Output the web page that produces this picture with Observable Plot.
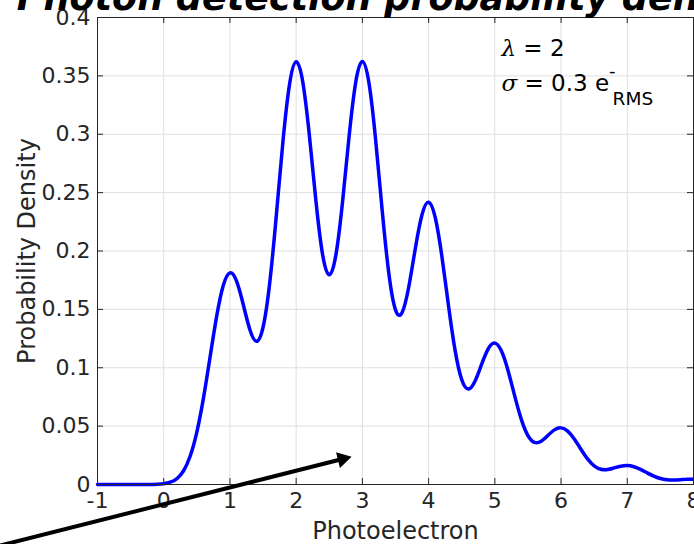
<!DOCTYPE html>
<html>
<head>
<meta charset="utf-8">
<script src="https://cdn.jsdelivr.net/npm/d3@7"></script>
<script src="https://cdn.jsdelivr.net/npm/@observablehq/plot@0.6"></script>
<style>
html, body { margin: 0; padding: 0; background: #fff; overflow: hidden; }
#chart svg { display: block; overflow: visible; }
</style>
</head>
<body>
<div id="chart"></div>
<script>
// ---- data ----
const titleText = "Photon detection probability density";
const xLabel = "Photoelectron";
const yLabel = "Probability Density";
const xTicks = [-1, 0, 1, 2, 3, 4, 5, 6, 7, 8];
const xTickLabels = ["-1", "0", "1", "2", "3", "4", "5", "6", "7", "8"];
const yTicks = [0, 0.05, 0.1, 0.15, 0.2, 0.25, 0.3, 0.35, 0.4];
const yTickLabels = ["0", "0.05", "0.1", "0.15", "0.2", "0.25", "0.3", "0.35", "0.4"];

const photoelectron = [
  -1.0, -0.9, -0.8, -0.7, -0.6, -0.5, -0.4, -0.3, -0.2, -0.1,
  0.0, 0.1, 0.2, 0.3, 0.4, 0.5, 0.6, 0.7, 0.8, 0.9,
  1.0, 1.1, 1.2, 1.3, 1.4, 1.5, 1.6, 1.7, 1.8, 1.9,
  2.0, 2.1, 2.2, 2.3, 2.4, 2.5, 2.6, 2.7, 2.8, 2.9,
  3.0, 3.1, 3.2, 3.3, 3.4, 3.5, 3.6, 3.7, 3.8, 3.9,
  4.0, 4.1, 4.2, 4.3, 4.4, 4.5, 4.6, 4.7, 4.8, 4.9,
  5.0, 5.1, 5.2, 5.3, 5.4, 5.5, 5.6, 5.7, 5.8, 5.9,
  6.0, 6.1, 6.2, 6.3, 6.4, 6.5, 6.6, 6.7, 6.8, 6.9,
  7.0, 7.1, 7.2, 7.3, 7.4, 7.5, 7.6, 7.7, 7.8, 7.9,
  8.0
];
const density = [
  0, 0, 0, 0, 0, 0, 0, 0, 0, 0.0002,
  0.0007, 0.0020, 0.0051, 0.0118, 0.0244, 0.0449, 0.0740, 0.1092, 0.1442, 0.1706,
  0.1813, 0.1742, 0.1544, 0.1328, 0.1227, 0.1347, 0.1724, 0.2302, 0.2935, 0.3429,
  0.3621, 0.3447, 0.2986, 0.2420, 0.1967, 0.1796, 0.1967, 0.2420, 0.2986, 0.3448,
  0.3623, 0.3436, 0.2952, 0.2342, 0.1805, 0.1496, 0.1474, 0.1692, 0.2024, 0.2311,
  0.2418, 0.2287, 0.1956, 0.1534, 0.1149, 0.0898, 0.0818, 0.0885, 0.1029, 0.1162,
  0.1211, 0.1143, 0.0975, 0.0759, 0.0558, 0.0419, 0.0360, 0.0370, 0.0419, 0.0468,
  0.0485, 0.0457, 0.0389, 0.0302, 0.0219, 0.0160, 0.0131, 0.0128, 0.0142, 0.0156,
  0.0162, 0.0152, 0.0129, 0.0100, 0.0072, 0.0051, 0.0040, 0.0038, 0.0041, 0.0045,
  0.0046
];

const annotations = ["λ = 2", "σ = 0.3 e-RMS"];
const annotationX = [5.1, 5.1];
const annotationY = [0.367, 0.337];

// arrow: tail (off-chart, lower left) -> head
const arrowX = [-2.8, 2.70];
const arrowY = [-0.057, 0.0218];

// ---- layout ----
const W = 694, H = 544;
const mL = 97, mR = 1, mT = 17, mB = 60;
const frameW = W - mL - mR, frameH = H - mT - mB;
const tickLen = 6;
const axisColor = "#262626";
const gridColor = "#dfdfdf";

const curveData = photoelectron.map((x, i) => ({x, y: density[i]}));
const arrowData = arrowX.map((x, i) => ({x, y: arrowY[i]}));
const arrowHead = [arrowData[arrowData.length - 1]];

const plot = Plot.plot({
  width: W,
  height: H,
  marginLeft: mL,
  marginRight: mR,
  marginTop: mT,
  marginBottom: mB,
  x: {domain: [-1, 8], axis: null},
  y: {domain: [0, 0.4], axis: null},
  style: {fontFamily: "DejaVu Sans", background: "white", overflow: "visible"},
  marks: [
    Plot.ruleX(xTicks, {stroke: gridColor, strokeWidth: 1}),
    Plot.ruleY(yTicks, {stroke: gridColor, strokeWidth: 1}),
    Plot.line(curveData, {x: "x", y: "y", stroke: "#0000ff", strokeWidth: 3.5, curve: "natural"}),
    Plot.frame({stroke: axisColor, strokeWidth: 1}),
    Plot.ruleX(xTicks, {stroke: axisColor, insetTop: frameH - tickLen}),
    Plot.ruleX(xTicks, {stroke: axisColor, insetBottom: frameH - tickLen}),
    Plot.ruleY(yTicks, {stroke: axisColor, insetRight: frameW - tickLen}),
    Plot.ruleY(yTicks, {stroke: axisColor, insetLeft: frameW - tickLen}),
    Plot.text(xTicks, {x: d => d, frameAnchor: "bottom", dy: 23, text: (d, i) => xTickLabels[i], fontSize: 22, fill: axisColor}),
    Plot.text(yTicks, {y: d => d, frameAnchor: "left", dx: -7, textAnchor: "end", text: (d, i) => yTickLabels[i], fontSize: 22, fill: axisColor}),
    Plot.text([xLabel], {frameAnchor: "bottom", dy: 54, lineAnchor: "bottom", text: d => d, fontSize: 24, fill: axisColor}),
    Plot.text([yLabel], {frameAnchor: "left", dx: -70, rotate: -90, textAnchor: "middle", text: d => d, fontSize: 24, fill: axisColor}),
    Plot.text([titleText], {frameAnchor: "top", dy: -8, lineAnchor: "bottom", text: d => d, fontSize: 36.5, fontWeight: "bold", fontStyle: "italic", fill: "black"}),
    Plot.text(annotations, {x: (d, i) => annotationX[i], y: (d, i) => annotationY[i], text: d => d, textAnchor: "start", lineAnchor: "bottom", fontSize: 23, fill: "black"}),
    Plot.line(arrowData, {x: "x", y: "y", stroke: "black", strokeWidth: 4}),
    Plot.dot(arrowHead, {x: "x", y: "y", symbol: "triangle", r: 6, rotate: 76, fill: "black", stroke: "none"})
  ]
});

// rich text for annotations (italic Greek letters, super/subscripts)
d3.select(plot).selectAll("text").each(function() {
  const t = this.textContent;
  const sel = d3.select(this);
  if (t === annotations[0]) {
    sel.text(null);
    sel.append("tspan").attr("font-family", "DejaVu Serif").attr("font-style", "italic").text("λ");
    sel.append("tspan").text(" = 2");
  } else if (t === annotations[1]) {
    sel.text(null);
    sel.append("tspan").attr("font-family", "DejaVu Serif").attr("font-style", "italic").text("σ");
    sel.append("tspan").text(" = 0.3 e");
    sel.append("tspan").attr("font-size", 18).attr("dy", -14).text("-");
    sel.append("tspan").attr("font-size", 18.5).attr("dx", -3).attr("dy", 28).text("RMS");
  }
});

document.getElementById("chart").appendChild(plot);
</script>
</body>
</html>
